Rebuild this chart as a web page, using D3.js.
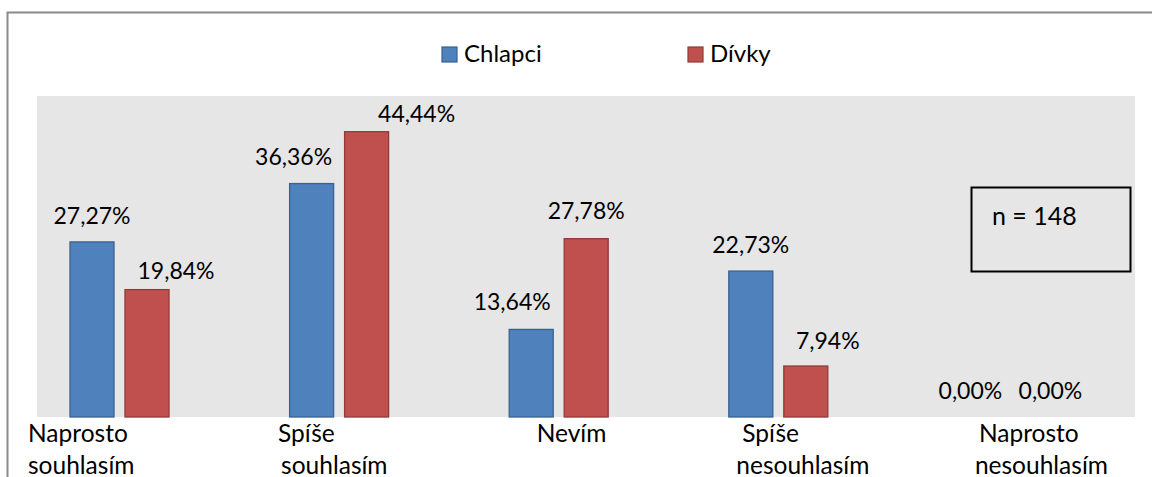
<!DOCTYPE html>
<html>
<head>
<meta charset="utf-8">
<script src="https://cdn.jsdelivr.net/npm/d3@7/dist/d3.min.js"></script>
<style>
  body { margin: 0; background: #fff; }
  svg text { font-family: Lato, "Open Sans", sans-serif; fill: #000; }
</style>
</head>
<body>
<div id="chart"></div>
<script>
// Data
var categories = [["Naprosto", "souhlasím"], ["Spíše", "souhlasím"], ["Nevím"], ["Spíše", "nesouhlasím"], ["Naprosto", "nesouhlasím"]];
var seriesNames = ["Chlapci", "Dívky"];
var chlapci = [27.27, 36.36, 13.64, 22.73, 0.00];
var divky = [19.84, 44.44, 27.78, 7.94, 0.00];
var yTicks = [0, 10, 20, 30, 40, 50];
var sampleNote = "n = 148";

var width = 1152, height = 477;
var colors = { "Chlapci": "#4f81bd", "Dívky": "#c0504d" };
var strokes = { "Chlapci": "#3a6190", "Dívky": "#8f3b39" };

var svg = d3.select("#chart").append("svg")
    .attr("width", width)
    .attr("height", height);

// Outer frame (cut off at right and bottom in the original)
svg.append("rect")
    .attr("x", 7.5).attr("y", 12.5)
    .attr("width", 1160).attr("height", 500)
    .attr("fill", "none")
    .attr("stroke", "#8a8a8a")
    .attr("stroke-width", 2);

// Plot area background
var plot = { left: 37, top: 96, right: 1135, bottom: 417 };
svg.append("rect")
    .attr("x", plot.left).attr("y", plot.top)
    .attr("width", plot.right - plot.left)
    .attr("height", plot.bottom - plot.top)
    .attr("fill", "#e6e6e6");

// Scales
var keys = categories.map(function (c) { return c.join(" "); });
var x0 = d3.scaleBand()
    .domain(keys)
    .range([9.7, 1107.7])
    .padding(0);

var bw = x0.bandwidth();
var x1 = d3.scaleBand()
    .domain(seriesNames)
    .range([bw / 2 - 49.5, bw / 2 + 49.5])
    .paddingInner(0.2)
    .paddingOuter(0);

var y = d3.scaleLinear()
    .domain([0, d3.max(yTicks)])
    .range([plot.bottom, plot.top]);

var rows = keys.map(function (k, i) {
    return { key: k, lines: categories[i], values: [
        { name: "Chlapci", value: chlapci[i] },
        { name: "Dívky", value: divky[i] }
    ] };
});

// Hand-moved data labels as in the original chart (dx, dy from bar top centre)
var labelNudge = {
    "Chlapci": [[0, -18], [-18, -19], [-19, -19], [0, -18], [0, -18]],
    "Dívky": [[29, -11], [50, -10], [0, -20], [22, -17], [25, -18]]
};

var groups = svg.selectAll(".group")
    .data(rows)
    .enter().append("g")
    .attr("class", "group")
    .attr("transform", function (d) { return "translate(" + x0(d.key) + ",0)"; });

groups.selectAll("rect")
    .data(function (d) { return d.values; })
    .enter().append("rect")
    .attr("x", function (d) { return x1(d.name); })
    .attr("y", function (d) { return y(d.value); })
    .attr("width", x1.bandwidth())
    .attr("height", function (d) { return y(0) - y(d.value); })
    .attr("fill", function (d) { return colors[d.name]; })
    .attr("stroke", function (d) { return d.value > 0 ? strokes[d.name] : "none"; })
    .attr("stroke-width", 1.3);

groups.each(function (row, gi) {
    d3.select(this).selectAll(".val")
        .data(row.values)
        .enter().append("text")
        .attr("class", "val")
        .attr("x", function (d) { return x1(d.name) + x1.bandwidth() / 2 + labelNudge[d.name][gi][0]; })
        .attr("y", function (d) { return y(d.value) + labelNudge[d.name][gi][1]; })
        .attr("text-anchor", "middle")
        .style("font-size", "23px")
        .text(function (d) { return d.value.toFixed(2).replace(".", ",") + "%"; });
});

// Category labels (wrapped, offset like the original; bottom line is clipped there too)
var catLineX = [[-91.5, -91.5], [-61, -58], [-22], [-36, -42], [-19, -23]];
groups.each(function (row, gi) {
    var g = d3.select(this);
    row.lines.forEach(function (line, li) {
        g.append("text")
            .attr("x", bw / 2 + catLineX[gi][li])
            .attr("y", 442 + li * 32)
            .style("font-size", "24.5px")
            .text(line);
    });
});

// Legend
var legendX = [442, 688];
var legend = svg.selectAll(".legend")
    .data(seriesNames)
    .enter().append("g")
    .attr("class", "legend")
    .attr("transform", function (d, i) { return "translate(" + legendX[i] + ",47)"; });

legend.append("rect")
    .attr("width", 15).attr("height", 15)
    .attr("fill", function (d) { return colors[d]; })
    .attr("stroke", function (d) { return strokes[d]; })
    .attr("stroke-width", 1.2);

legend.append("text")
    .attr("x", 22)
    .attr("y", 15)
    .style("font-size", "24px")
    .text(function (d) { return d; });

// n box
svg.append("rect")
    .attr("x", 971.5).attr("y", 187.5)
    .attr("width", 159).attr("height", 84)
    .attr("fill", "none")
    .attr("stroke", "#000")
    .attr("stroke-width", 2);

svg.append("text")
    .attr("x", 992)
    .attr("y", 225)
    .style("font-size", "25px")
    .text(sampleNote);
</script>
</body>
</html>
